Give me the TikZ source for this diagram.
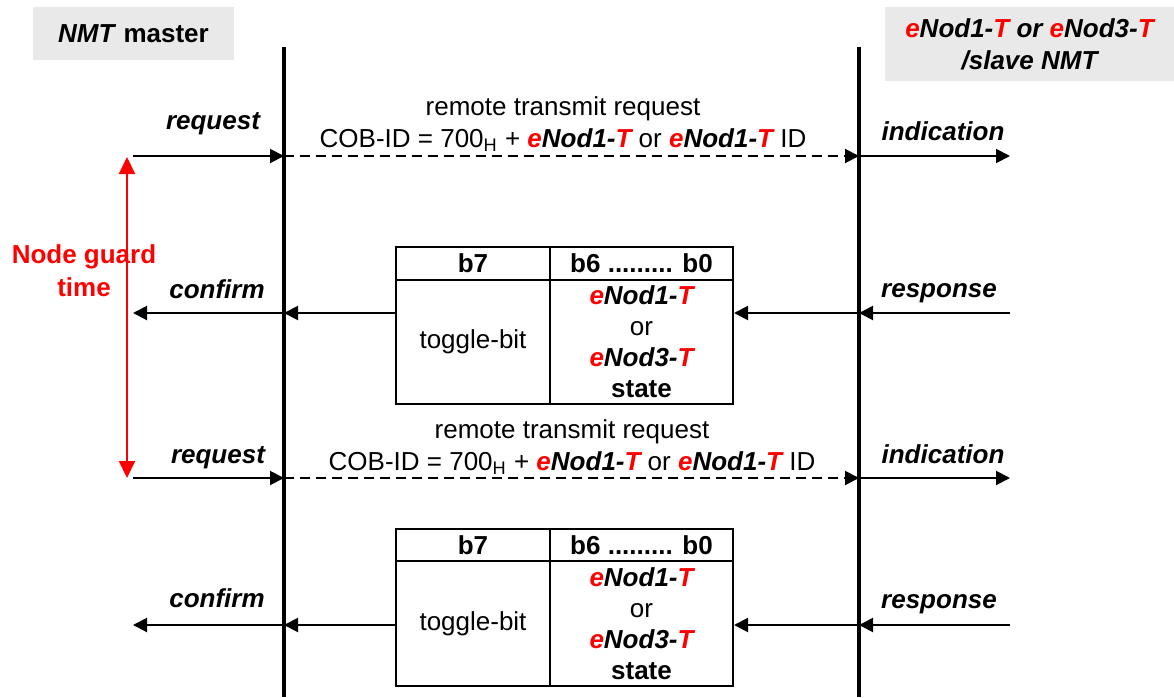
\documentclass[tikz,border=0pt]{standalone}
\usepackage{fontspec}
\setmainfont{Liberation Sans}
\usetikzlibrary{arrows.meta}
\definecolor{titlegrey}{RGB}{233,233,233}
\newcommand{\enod}[1]{\textbf{\textit{\textcolor{red}{e}Nod#1-\textcolor{red}{T}}}}

\begin{document}
\begin{tikzpicture}[x=0.5pt, y=-0.5pt,
  lifeline/.style={line width=2pt},
  msg/.style={line width=1pt, -{Triangle[length=7pt, width=7pt]}},
  remote/.style={msg, dash pattern=on 5pt off 3pt},
  guard/.style={red, line width=1pt, {Triangle[length=8.5pt, width=8pt]}-{Triangle[length=8.5pt, width=8pt]}},
  title/.style={fill=titlegrey, align=center, inner sep=0pt, font=\fontsize{13}{16}\selectfont\bfseries},
  prim/.style={anchor=base, font=\fontsize{13}{15.6}\selectfont\bfseries\itshape},
  frame/.style={align=center, font=\fontsize{13}{16}\selectfont},
  cell/.style={draw, line width=1pt, inner sep=0pt, align=center, font=\fontsize{13}{15.5}\selectfont}
]
\useasboundingbox (0,0) rectangle (1174,697);

% headers
\node[title, minimum width=100.5pt, minimum height=26.5pt] (master) at (133.5,33.5) {\textit{NMT} master};
\node[title, minimum width=144.5pt, minimum height=37pt, font=\fontsize{13}{16}\selectfont\bfseries\itshape] (slave) at (1029.5,44) {\enod{1} or \enod{3}\\/slave NMT};

% lifelines
\coordinate (mtop) at (284,47);
\coordinate (mbot) at (284,697);
\coordinate (stop) at (859,47);
\coordinate (sbot) at (859,697);
\draw[lifeline] (mtop) -- (mbot);
\draw[lifeline] (stop) -- (sbot);

% message ends
\coordinate (req1) at (133,156);
\coordinate (ind1) at (1010,156);
\coordinate (cnf1) at (133,313);
\coordinate (rsp1) at (1010,313);
\coordinate (req2) at (133,478);
\coordinate (ind2) at (1010,478);
\coordinate (cnf2) at (133,625);
\coordinate (rsp2) at (1010,625);

% first node guarding cycle
\node[prim] (lreq1) at (213,129) {request};
\node[prim] (lind1) at (943,140) {indication};
\node[frame] (rtr1) at (563,124) {remote transmit request\\COB-ID = 700\textsubscript{H} + \enod{1} or \enod{1} ID};
\draw[msg] (req1) -- (req1 -| mtop);
\draw[remote] (req1 -| mtop) -- (req1 -| stop);
\draw[msg] (req1 -| stop) -- (ind1);

\node[cell, minimum width=77pt, minimum height=16.5pt] (hb7a) at (473,263.5) {\textbf{b7}};
\node[cell, minimum width=91.5pt, minimum height=16.5pt] (hb6a) at (641.5,263.5) {\textbf{b6 ......... b0}};
\node[cell, minimum width=77pt, minimum height=62pt] (tog1) at (473,342) {toggle-bit};
\node[cell, minimum width=91.5pt, minimum height=62pt] (state1) at (641.5,342) {\enod{1}\\or\\\enod{3}\\\textbf{state}};

\node[prim] (lcnf1) at (217,298) {confirm};
\node[prim] (lrsp1) at (939,297) {response};
\draw[msg] (rsp1) -- (rsp1 -| stop);
\draw[msg] (rsp1 -| stop) -- (rsp1 -| state1.east);
\draw[msg] (cnf1 -| tog1.west) -- (cnf1 -| mtop);
\draw[msg] (cnf1 -| mtop) -- (cnf1);

% second node guarding cycle
\node[prim] (lreq2) at (218,463) {request};
\node[prim] (lind2) at (943,463) {indication};
\node[frame] (rtr2) at (572,447) {remote transmit request\\COB-ID = 700\textsubscript{H} + \enod{1} or \enod{1} ID};
\draw[msg] (req2) -- (req2 -| mtop);
\draw[remote] (req2 -| mtop) -- (req2 -| stop);
\draw[msg] (req2 -| stop) -- (ind2);

\node[cell, minimum width=77pt, minimum height=16pt] (hb7b) at (473,545) {\textbf{b7}};
\node[cell, minimum width=91.5pt, minimum height=16pt] (hb6b) at (641.5,545) {\textbf{b6 ......... b0}};
\node[cell, minimum width=77pt, minimum height=62.5pt] (tog2) at (473,623.5) {toggle-bit};
\node[cell, minimum width=91.5pt, minimum height=62.5pt] (state2) at (641.5,623.5) {\enod{1}\\or\\\enod{3}\\\textbf{state}};

\node[prim] (lcnf2) at (217,607) {confirm};
\node[prim] (lrsp2) at (939,608) {response};
\draw[msg] (rsp2) -- (rsp2 -| stop);
\draw[msg] (rsp2 -| stop) -- (rsp2 -| state2.east);
\draw[msg] (cnf2 -| tog2.west) -- (cnf2 -| mtop);
\draw[msg] (cnf2 -| mtop) -- (cnf2);

% guard time
\node[align=center, red, font=\fontsize{13}{16.5}\selectfont\bfseries] (gtxt) at (84,271) {Node guard\\time};
\coordinate (gtop) at (127,157);
\coordinate (gbot) at (127,478);
\draw[guard] (gtop) -- (gbot);
\end{tikzpicture}
\end{document}
